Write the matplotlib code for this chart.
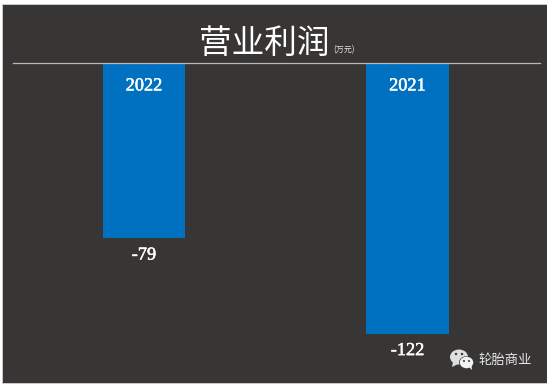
import matplotlib
matplotlib.use("Agg")
import matplotlib.pyplot as plt
import matplotlib.patheffects as pe
from matplotlib.patches import Rectangle, Ellipse, Polygon

years = ["2022", "2021"]
values = [-79, -122]
title = "营业利润"
unit = "(万元)"
brand = "轮胎商业"

W, H = 547, 386
BG = "#383635"
BAR = "#0070C0"
cjk = ["Noto Sans CJK SC", "DejaVu Sans"]
serif = "Liberation Serif"

fig = plt.figure(figsize=(W / 100, H / 100), dpi=100, facecolor="white")

def fx(x): return x / W
def fy(y): return 1 - y / H

# dark panel with thin grey edge
fig.add_artist(Rectangle((fx(2), fy(384)), fx(546), 380 / H, transform=fig.transFigure,
                         facecolor="#c9c9c9", edgecolor="none", zorder=-3))
fig.add_artist(Rectangle((fx(3), fy(383)), fx(545), 378 / H, transform=fig.transFigure,
                         facecolor=BG, edgecolor="none", zorder=-2))

ax = fig.add_axes([fx(13), fy(383), fx(527), 320 / H])
ax.patch.set_alpha(0)
x = list(range(len(values)))
bars = ax.bar(x, values, width=0.313, color=BAR, linewidth=0)
ax.set_xlim(-0.497, 1.503)
ax.set_ylim(-144.1, 0)
ax.set_xticks([])
ax.set_yticks([])
for side in ("left", "right", "bottom"):
    ax.spines[side].set_visible(False)
ax.spines["top"].set_color("#b8b8b8")
ax.spines["top"].set_linewidth(0.9)

semi = [pe.withStroke(linewidth=0.35, foreground="white")]
for xi, v, yr in zip(x, values, years):
    ax.annotate(yr, (xi, 0), xytext=(0, -16.5), textcoords="offset points",
                ha="center", va="center", color="white", fontsize=13.2,
                family=serif, path_effects=semi)
    ax.annotate(str(v), (xi, v), xytext=(0, -12), textcoords="offset points",
                ha="center", va="center", color="white", fontsize=13.2,
                family=serif, path_effects=semi)

fig.text(fx(264), fy(43.5), title, ha="center", va="center", color="white",
         fontsize=23.5, family=cjk)
fig.text(fx(343.5), fy(50), unit, ha="center", va="center", color="#e0e0e0",
         fontsize=5.8, family=cjk)
fig.text(fx(505), fy(360), brand, ha="center", va="center", color="#e6e6e6",
         fontsize=9.6, family=cjk)

# WeChat-style icon
def ell(cx, cy, w, h, c, z=3):
    fig.add_artist(Ellipse((fx(cx), fy(cy)), w / W, h / H, transform=fig.transFigure,
                           facecolor=c, edgecolor="none", zorder=z))

ell(459, 357, 18, 15, "#dedede", 3)
fig.add_artist(Polygon([(fx(453), fy(362)), (fx(452), fy(367)), (fx(458), fy(364))],
                       transform=fig.transFigure, facecolor="#dedede", edgecolor="none", zorder=3))
ell(466.5, 362.5, 15, 12.5, BG, 4)
ell(466.5, 362.5, 13.5, 11.5, "#f2f2f2", 5)
fig.add_artist(Polygon([(fx(468), fy(366)), (fx(472), fy(370)), (fx(471.5), fy(365))],
                       transform=fig.transFigure, facecolor="#f2f2f2", edgecolor="none", zorder=5))
for cx, cy, r, z in [(456, 354, 2.4, 6), (462, 354, 2.4, 6), (464, 361, 2, 6), (469, 361, 2, 6)]:
    ell(cx, cy, r, r, BG, z)

fig.savefig("out.png", dpi=100, facecolor=fig.get_facecolor())
